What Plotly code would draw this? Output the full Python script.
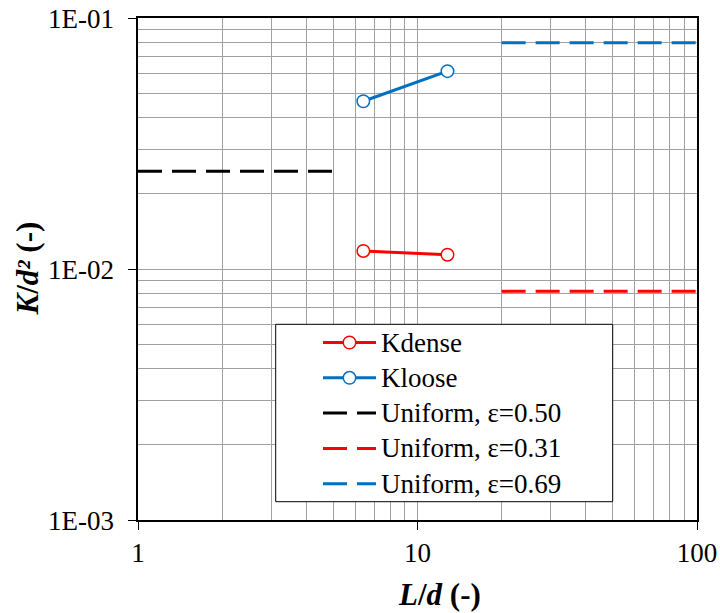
import math
import plotly.graph_objects as go

# Measured permeability (normalised by d^2) vs. specimen aspect ratio L/d
ld_measured = [6.4, 12.8]
k_dense = [0.0118, 0.0114]
k_loose = [0.0466, 0.0614]

# Uniform-packing reference levels and the L/d spans they are drawn over
ld_uniform_050 = [1, 5]
k_uniform_050 = [0.0245, 0.0245]
ld_uniform_031 = [20, 100]
k_uniform_031 = [0.00815, 0.00815]
ld_uniform_069 = [20, 100]
k_uniform_069 = [0.0797, 0.0797]

x_tickvals = [1, 10, 100]
x_ticktext = ["1", "10", "100"]
y_tickvals = [0.001, 0.01, 0.1]
y_ticktext = ["1E-03", "1E-02", "1E-01"]

RED = "#ff0000"
BLUE = "#0070c0"
BLACK = "#000000"
FONT = "Liberation Serif, Times New Roman, serif"
DASH = "24px,10px"
GRID = "#a0a0a0"

# Figure / plot-area geometry (pixels)
W_FIG, H_FIG = 720, 613
M_L, M_R, M_T, M_B = 138, 23, 18, 93
PLOT_W = W_FIG - M_L - M_R
PLOT_H = H_FIG - M_T - M_B


def px(xp):
    """Pixel column -> paper x."""
    return (xp - M_L) / PLOT_W


def py(yp):
    """Pixel row -> paper y."""
    return (H_FIG - M_B - yp) / PLOT_H


fig = go.Figure()

marker_style = lambda c: dict(symbol="circle", size=12.5, color="white",
                              line=dict(color=c, width=1.5))

fig.add_trace(go.Scatter(
    x=ld_measured, y=k_dense, name="Kdense", mode="lines+markers",
    line=dict(color=RED, width=3), marker=marker_style(RED),
))
fig.add_trace(go.Scatter(
    x=ld_measured, y=k_loose, name="Kloose", mode="lines+markers",
    line=dict(color=BLUE, width=3), marker=marker_style(BLUE),
))
fig.add_trace(go.Scatter(
    x=ld_uniform_050, y=k_uniform_050, name="Uniform, ε=0.50",
    mode="lines", line=dict(color=BLACK, width=3, dash=DASH),
))
fig.add_trace(go.Scatter(
    x=ld_uniform_031, y=k_uniform_031, name="Uniform, ε=0.31",
    mode="lines", line=dict(color=RED, width=3, dash=DASH),
))
fig.add_trace(go.Scatter(
    x=ld_uniform_069, y=k_uniform_069, name="Uniform, ε=0.69",
    mode="lines", line=dict(color=BLUE, width=3, dash=DASH),
))

x_minor = [m * 10 ** e for e in range(0, 2) for m in range(2, 10)]
y_minor = [m * 10.0 ** e for e in range(-3, -1) for m in range(2, 10)]

common_axis = dict(
    type="log", automargin=False, tickmode="array",
    ticks="outside", ticklen=8, tickwidth=1, tickcolor=BLACK,
    showline=True, linecolor=BLACK, linewidth=1.5, mirror=True,
    showgrid=True, gridcolor=GRID, gridwidth=1,
    tickfont=dict(family=FONT, size=27, color=BLACK),
    zeroline=False,
)
fig.update_xaxes(
    range=[0, 2], tickvals=x_tickvals, ticktext=x_ticktext,
    minor=dict(tickmode="array", tickvals=x_minor, showgrid=True,
               gridcolor=GRID, gridwidth=1, ticks=""),
    **common_axis,
)
fig.update_yaxes(
    range=[-3, -1], tickvals=y_tickvals, ticktext=y_ticktext,
    showticklabels=False,
    minor=dict(tickmode="array", tickvals=y_minor, showgrid=True,
               gridcolor=GRID, gridwidth=1, ticks=""),
    **common_axis,
)

# y tick labels, right-aligned with a wider gap to the tick marks
for val, label in zip(y_tickvals, y_ticktext):
    fig.add_annotation(
        text=label, xref="paper", yref="y",
        x=px(114.5), y=math.log10(val), xanchor="right", yanchor="middle",
        yshift=-1, borderpad=0, showarrow=False,
        font=dict(family=FONT, size=27, color=BLACK),
    )

# Axis titles
title_font = dict(family=FONT, size=31, color=BLACK)
fig.add_annotation(
    text="<b><i>L</i>/<i>d</i> (-)</b>", xref="paper", yref="paper",
    x=px(439.5), y=py(594), xanchor="center", yanchor="middle",
    showarrow=False, font=title_font,
)
fig.add_annotation(
    text="<b><i>K</i>/<i>d²</i> (-)</b>", xref="paper", yref="paper",
    x=px(27), y=py(268.5), xanchor="center", yanchor="middle",
    textangle=-90, showarrow=False, font=title_font,
)

# Legend: framed box with a sample line (and marker) per series
fig.add_shape(
    type="rect", xref="paper", yref="paper",
    x0=px(275.7), x1=px(612.7), y0=py(501.7), y1=py(324.3),
    fillcolor="white", line=dict(color=BLACK, width=1), layer="above",
)
row0, row_step = 342.5, 35.3
for i, tr in enumerate(fig.data):
    yrow = py(row0 + i * row_step)
    fig.add_shape(
        type="line", xref="paper", yref="paper",
        x0=px(323), x1=px(376), y0=yrow, y1=yrow, layer="above",
        line=dict(color=tr.line.color, width=3, dash=tr.line.dash or "solid"),
    )
    if "markers" in tr.mode:
        fig.add_shape(
            type="circle", xref="paper", yref="paper",
            xsizemode="pixel", ysizemode="pixel",
            xanchor=px(349.5), yanchor=yrow,
            x0=-6.25, x1=6.25, y0=-6.25, y1=6.25, layer="above",
            fillcolor="white", line=dict(color=tr.line.color, width=1.5),
        )
    fig.add_annotation(
        text=tr.name, xref="paper", yref="paper",
        x=px(379), y=yrow, xanchor="left", yanchor="middle",
        showarrow=False, font=dict(family=FONT, size=27, color=BLACK),
    )

fig.update_layout(
    width=W_FIG, height=H_FIG,
    margin=dict(l=M_L, r=M_R, t=M_T, b=M_B),
    paper_bgcolor="white", plot_bgcolor="white",
    font=dict(family=FONT, color=BLACK),
    showlegend=False,
)

fig.write_html("out.html")
